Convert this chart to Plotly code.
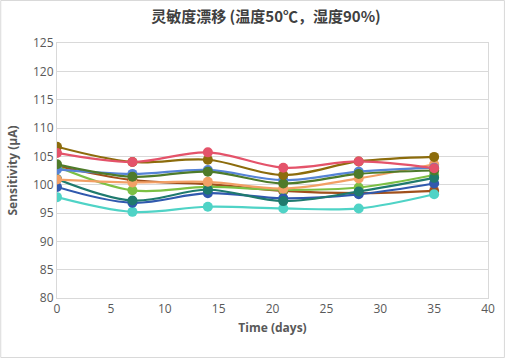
import plotly.graph_objects as go

days = [0, 7, 14, 21, 28, 35]

series_names = ["S1", "S2", "S3", "S4", "S5", "S6", "S7", "S8", "S9", "S10"]
s_red = [105.6, 104.0, 105.7, 103.0, 104.1, 102.9]
s_olive = [106.7, 104.0, 104.4, 101.7, 104.1, 104.9]
s_dgreen = [103.6, 101.4, 102.3, 100.2, 101.9, 102.5]
s_blue = [102.7, 101.9, 102.6, 100.8, 102.3, 103.0]
s_orange = [100.9, 100.4, 100.5, 99.3, 101.1, 103.6]
s_teal = [101.0, 97.2, 99.1, 97.1, 98.8, 101.2]
s_dblue = [99.6, 96.8, 98.5, 97.6, 98.3, 100.2]
s_cyan = [97.8, 95.2, 96.1, 95.8, 95.8, 98.3]
s_lgreen = [103.2, 99.0, 99.6, 99.1, 99.5, 101.7]
s_brown = [103.3, 100.8, 100.1, 98.9, 98.5, 98.9]

values = [s_brown, s_lgreen, s_cyan, s_dblue, s_teal, s_orange, s_blue, s_dgreen, s_olive, s_red]
colors = ["#A0501C", "#7CC044", "#4FD3C6", "#3059AE", "#1F7A6E", "#F2A066",
          "#5683D6", "#4E7B2A", "#8C6C0C", "#E4536A"]

fig = go.Figure()
for name, vals, col in zip(series_names, values, colors):
    fig.add_trace(go.Scatter(
        x=days, y=vals, name=name, mode="lines+markers",
        line=dict(color=col, width=2.2, shape="spline", smoothing=1),
        marker=dict(color=col, size=10),
        showlegend=False,
    ))

W, H = 507, 358
L, R, T, B = 57, 17, 43, 60
pw, ph = W - L - R, H - T - B

fig.update_layout(
    width=W, height=H,
    margin=dict(l=L, r=R, t=T, b=B),
    paper_bgcolor="white", plot_bgcolor="white",
    title=dict(text="<b>灵敏度漂移 (温度50℃，湿度90%)</b>", x=266 / W, xanchor="center",
               y=1 - 17 / H, yanchor="middle",
               font=dict(family="Noto Sans CJK SC", size=15, color="#404040")),
    font=dict(family="Open Sans, Noto Sans", color="#595959", size=12),
    xaxis=dict(range=[0, 40], dtick=5, tick0=0, showgrid=False, zeroline=False,
               showline=True, linecolor="#d9d9d9", linewidth=1, mirror=True,
               ticks="", tickfont=dict(size=12, color="#595959"),
               title=dict(text="<b>Time (days)</b>", standoff=7,
                          font=dict(size=12, color="#595959"))),
    yaxis=dict(range=[80, 125], dtick=5, tick0=80, showgrid=True, gridcolor="#d9d9d9",
               zeroline=False, showline=True, linecolor="#d9d9d9", linewidth=1, mirror=True,
               ticks="", tickfont=dict(size=12, color="#595959"),
               title=dict(text="<b>Sensitivity (μA)</b>", standoff=12,
                          font=dict(size=12, color="#595959"))),
    shapes=[dict(type="rect", xref="paper", yref="paper",
                 x0=(-L + 0.5) / pw, x1=1 + (R - 0.5) / pw,
                 y0=(-B + 0.5) / ph, y1=1 + (T - 0.5) / ph,
                 line=dict(color="#d9d9d9", width=1), layer="below")],
)

fig.write_html("out.html", config={"displayModeBar": False},
               post_script="document.body.style.margin='0';document.body.style.padding='0';")
